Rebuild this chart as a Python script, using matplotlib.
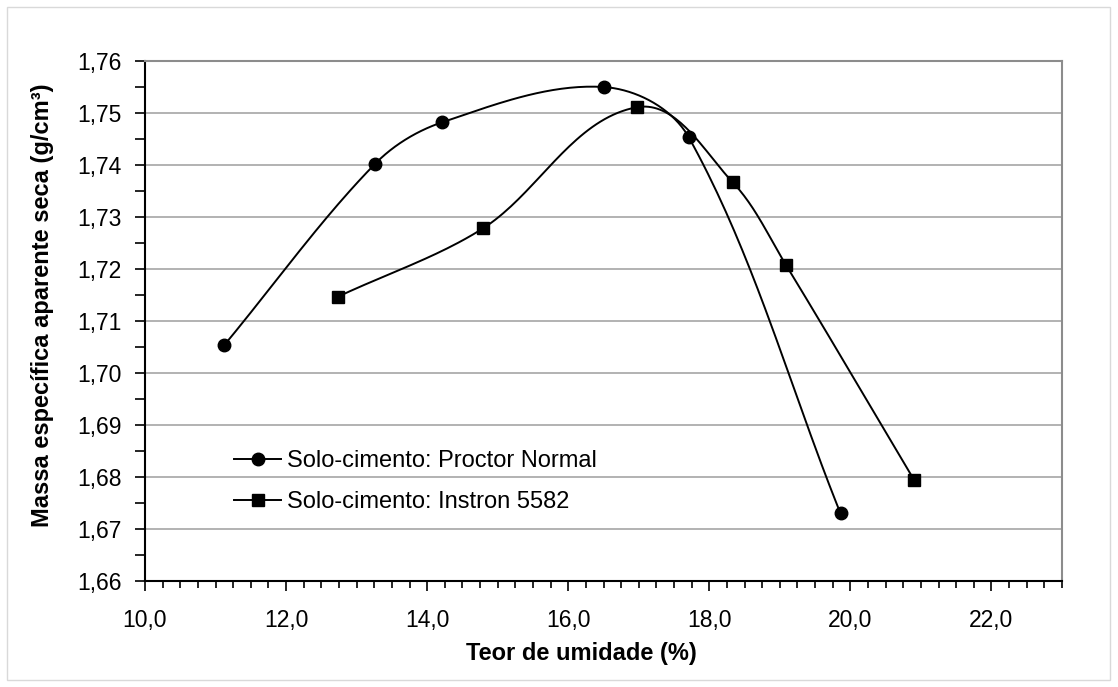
import matplotlib
matplotlib.use("Agg")
import matplotlib.pyplot as plt
import numpy as np
from matplotlib.ticker import MultipleLocator, FuncFormatter
from matplotlib.patches import Rectangle

plt.rcParams['font.family'] = ['Liberation Sans', 'DejaVu Sans']

proctor_x = [11.12, 13.26, 14.21, 16.50, 17.71, 19.86]
proctor_y = [1.7053, 1.7402, 1.7482, 1.7550, 1.7453, 1.6730]
instron_x = [12.74, 14.79, 16.97, 18.33, 19.09, 20.90]
instron_y = [1.7147, 1.7278, 1.7511, 1.7367, 1.7207, 1.6795]
labels = ['Solo-cimento: Proctor Normal', 'Solo-cimento: Instron 5582']

xmin, xmax = 10, 23
ymin, ymax = 1.66, 1.76


def smooth(xs, ys, sx, sy, n=40):
    # smoothed line like excel: bezier, tangent along neighbours, length ~ segment/3
    p = np.column_stack([np.array(xs) * sx, np.array(ys) * sy])
    pe = np.vstack([p[0], p, p[-1]])
    out = []
    t = np.linspace(0, 1, n)[:, None]
    for i in range(1, len(pe) - 2):
        p0, p1, p2, p3 = pe[i - 1], pe[i], pe[i + 1], pe[i + 2]
        d12 = np.linalg.norm(p2 - p1)
        t1 = p2 - p0
        t2 = p3 - p1
        t1 = t1 / np.linalg.norm(t1)
        t2 = t2 / np.linalg.norm(t2)
        c1 = p1 + t1 * d12 / 3
        c2 = p2 - t2 * d12 / 3
        seg = ((1 - t) ** 3) * p1 + 3 * ((1 - t) ** 2) * t * c1 + 3 * (1 - t) * t ** 2 * c2 + t ** 3 * p2
        out.append(seg)
    out = np.vstack(out)
    return out[:, 0] / sx, out[:, 1] / sy


fig = plt.figure(figsize=(11.18, 6.87), dpi=100)
fig.patches.append(Rectangle((7 / 1118, 7 / 687), 1103 / 1118, 673 / 687, transform=fig.transFigure,
                             fill=False, edgecolor='#d9d9d9', linewidth=1))
ax = fig.add_axes([145 / 1118, 1 - 581 / 687, 917 / 1118, 520 / 687])

sx = 917.0 / (xmax - xmin)
sy = 520.0 / (ymax - ymin)

for xs, ys, mk, lab in [(proctor_x, proctor_y, 'o', labels[0]), (instron_x, instron_y, 's', labels[1])]:
    cx, cy = smooth(xs, ys, sx, sy)
    ax.plot(cx, cy, color='black', lw=1.4, zorder=3)
    ax.plot(xs, ys, linestyle='none', marker=mk, color='black', markersize=9, zorder=4)
    ax.plot([], [], color='black', lw=1.4, marker=mk, markersize=9, label=lab)

ax.set_xlim(xmin, xmax)
ax.set_ylim(ymin, ymax)
ax.xaxis.set_major_locator(MultipleLocator(2))
ax.xaxis.set_minor_locator(MultipleLocator(0.25))
ax.yaxis.set_major_locator(MultipleLocator(0.01))
ax.yaxis.set_minor_locator(MultipleLocator(0.005))
ax.xaxis.set_major_formatter(FuncFormatter(lambda v, p: f"{v:.1f}".replace('.', ',')))
ax.yaxis.set_major_formatter(FuncFormatter(lambda v, p: f"{v:.2f}".replace('.', ',')))

ax.grid(axis='y', which='major', color='#a6a6a6', lw=1.2)
ax.set_axisbelow(True)
for s in ['top', 'right']:
    ax.spines[s].set_color('#8c8c8c')
    ax.spines[s].set_linewidth(1.5)
for s in ['left', 'bottom']:
    ax.spines[s].set_color('black')
    ax.spines[s].set_linewidth(1.5)

ax.tick_params(axis='both', which='major', direction='out', labelsize=16.5, length=7, width=1.2, colors='black')
ax.tick_params(axis='y', which='minor', direction='out', length=7, width=1.2)
ax.tick_params(axis='x', which='minor', direction='out', length=5, width=1.2)
ax.tick_params(axis='x', which='major', pad=13)
ax.tick_params(axis='y', which='major', pad=10)

ax.set_xlabel('Teor de umidade (%)', fontsize=17, fontweight='bold')
ax.xaxis.set_label_coords((581 - 145) / 917, -0.118)
ax.set_ylabel('Massa específica aparente seca (g/cm³)', fontsize=17, fontweight='bold')
ax.yaxis.set_label_coords(-0.099, (687 - 305 - 106) / 520)

ax.legend(loc='upper left', bbox_to_anchor=(0.087, 0.27), frameon=False, fontsize=17,
          handlelength=2.0, handletextpad=0.25, labelspacing=0.8, borderaxespad=0)

fig.savefig('out.png', dpi=100)
